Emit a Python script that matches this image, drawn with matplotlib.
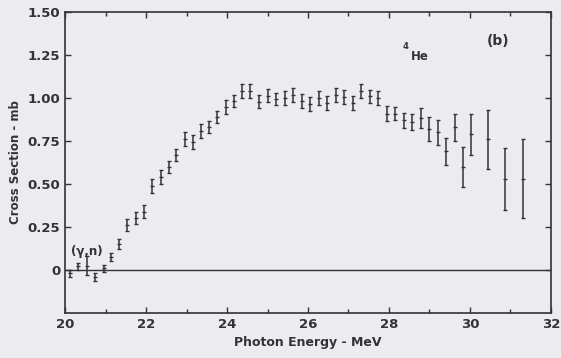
import matplotlib
matplotlib.use("Agg")
import matplotlib.pyplot as plt
from matplotlib.ticker import MultipleLocator

# photon energy (MeV), cross section (mb), error (mb)
energy = [20.12, 20.31, 20.53, 20.73, 20.95, 21.14, 21.34, 21.54, 21.75, 21.95,
          22.15, 22.36, 22.56, 22.75, 22.95, 23.15, 23.36, 23.56, 23.76, 23.97,
          24.17, 24.37, 24.58, 24.80, 25.00, 25.21, 25.42, 25.63, 25.84, 26.06,
          26.26, 26.46, 26.68, 26.89, 27.10, 27.30, 27.52, 27.72, 27.94, 28.15,
          28.36, 28.58, 28.78, 28.98, 29.20, 29.41, 29.62, 29.84, 30.02, 30.45,
          30.87, 31.30]
sigma = [-0.02, 0.02, 0.025, -0.04, 0.01, 0.075, 0.15, 0.26, 0.30, 0.34,
         0.49, 0.54, 0.60, 0.67, 0.76, 0.745, 0.81, 0.83, 0.89, 0.95,
         0.985, 1.04, 1.04, 0.98, 1.015, 0.995, 1.00, 1.02, 0.985, 0.965,
         1.00, 0.97, 1.02, 1.005, 0.97, 1.04, 1.01, 1.00, 0.91, 0.91,
         0.87, 0.86, 0.885, 0.82, 0.80, 0.69, 0.83, 0.60, 0.79, 0.76,
         0.53, 0.53]
err = [0.02, 0.02, 0.055, 0.025, 0.02, 0.025, 0.03, 0.035, 0.035, 0.035,
       0.04, 0.04, 0.035, 0.035, 0.04, 0.04, 0.04, 0.035, 0.035, 0.04,
       0.035, 0.04, 0.04, 0.04, 0.04, 0.035, 0.04, 0.04, 0.04, 0.04,
       0.04, 0.04, 0.04, 0.04, 0.04, 0.04, 0.04, 0.04, 0.045, 0.04,
       0.045, 0.045, 0.06, 0.07, 0.075, 0.08, 0.08, 0.115, 0.12, 0.17,
       0.18, 0.23]

ytick_vals = [0, 0.25, 0.50, 0.75, 1.00, 1.25, 1.50]
ytick_labels = ["0", "0.25", "0.50", "0.75", "1.00", "1.25", "1.50"]
xtick_vals = [20, 22, 24, 26, 28, 30, 32]

ink = "#333335"
paper = "#ecebed"

plt.rcParams['font.family'] = ['DejaVu Sans']
plt.rcParams['font.weight'] = 'bold'

fig = plt.figure(figsize=(5.61, 3.58), dpi=100, facecolor=paper)
ax = fig.add_axes([0.116, 0.126, 0.866, 0.84], facecolor=paper)

ax.errorbar(energy, sigma, yerr=err, fmt='_', ms=3, mew=1.0, color=ink,
            ecolor=ink, elinewidth=1.1, capsize=1.2, capthick=1.0)
ax.axhline(0, color=ink, lw=1.0)

ax.set_xlim(20, 32)
ax.set_ylim(-0.25, 1.5)
ax.set_xticks(xtick_vals)
ax.xaxis.set_minor_locator(MultipleLocator(1))
ax.set_yticks(ytick_vals)
ax.set_yticklabels(ytick_labels)
ax.tick_params(which='both', direction='in', top=True, right=True,
               colors=ink, labelsize=9.5, width=1.0)
ax.tick_params(which='major', length=4)
ax.tick_params(which='minor', length=3)
for s in ax.spines.values():
    s.set_color(ink)
    s.set_linewidth(1.2)

ax.set_xlabel("Photon Energy - MeV", fontsize=9, fontweight='bold', color=ink, labelpad=4)
ax.set_ylabel("Cross Section - mb", fontsize=8.5, fontweight='bold', color=ink, labelpad=4)

ax.text(20.53, 0.107, "(γ,n)", ha='center', va='center', fontsize=8.5,
        fontweight='bold', color=ink)
ax.text(28.4, 1.30, "4", ha='center', va='center', fontsize=6,
        fontweight='bold', color=ink)
ax.text(28.75, 1.24, "He", ha='center', va='center', fontsize=8.5,
        fontweight='bold', color=ink)
ax.text(30.7, 1.33, "(b)", ha='center', va='center', fontsize=10,
        fontweight='bold', color=ink)

fig.savefig("out.png", dpi=100, facecolor=paper)
